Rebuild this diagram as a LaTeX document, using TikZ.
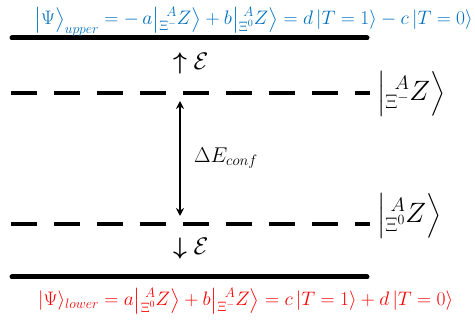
\RequirePackage{fix-cm}
\documentclass[tikz,border=0pt]{standalone}
\usepackage{mathtools}
\usetikzlibrary{arrows.meta}
\definecolor{upblue}{RGB}{0,112,192}
\definecolor{lowred}{RGB}{255,0,0}
\tikzset{
  level/.style={line width=5pt, line cap=round},
  conf/.style={line width=4.2pt, dash pattern=on 26pt off 17pt},
  eq/.style={inner sep=0pt, font=\fontsize{19.5}{23}\selectfont},
  lab/.style={inner sep=0pt, font=\fontsize{28}{32}\selectfont},
  elab/.style={inner sep=0pt, font=\fontsize{24}{28}\selectfont},
}
\newcommand{\hyp}[1]{\prescript{A}{\Xi^{#1}}{Z}}
\newcommand{\hket}[1]{\bigl|\hyp{#1}\bigr\rangle}
\begin{document}
\begin{tikzpicture}[x=1pt,y=-1pt]
\useasboundingbox (0,0) rectangle (475,320);
% levels
\coordinate (u1) at (12,38); \coordinate (u2) at (367,38);
\coordinate (l1) at (12,277); \coordinate (l2) at (367,277);
\coordinate (d1) at (11,93); \coordinate (d2) at (370,93);
\coordinate (e1) at (11,224); \coordinate (e2) at (370,224);
\draw[level] (u1) -- (u2);
\draw[level] (l1) -- (l2);
\draw[conf] (d1) -- (d2);
\draw[conf] (e1) -- (e2);
% labels
\node[eq, text=upblue, anchor=base east] (up) at (473,25)
  {$\bigl|\Psi\bigr\rangle_{upper} = -\,a\hket{-} + b\hket{0} = d\,|T=1\rangle - c\,|T=0\rangle$};
\node[eq, text=lowred, anchor=base west] (low) at (38,306)
  {$|\Psi\rangle_{lower} = a\hket{0} + b\hket{-} = c\,|T=1\rangle + d\,|T=0\rangle$};
\node[lab, anchor=west] (xm) at (377,94) {$\left|\hyp{-}\right\rangle$};
\node[lab, anchor=west] (x0) at (377,216) {$\left|\hyp{0}\right\rangle$};
\node[elab, anchor=west] (eu) at (173,64) {$\boldsymbol{\uparrow}\mathcal{E}$};
\node[elab, anchor=west] (ed) at (173,249) {$\boldsymbol{\downarrow}\mathcal{E}$};
\coordinate (a1) at (180,101);
\coordinate (a2) at (180,216);
\draw[line width=1.6pt, {Stealth[length=8pt,width=8pt]}-{Stealth[length=8pt,width=8pt]}] (a1) -- (a2);
\node[elab, anchor=west, font=\fontsize{21.4}{25}\selectfont] (de) at (194,158) {$\Delta E_{conf}$};
\end{tikzpicture}
\end{document}
